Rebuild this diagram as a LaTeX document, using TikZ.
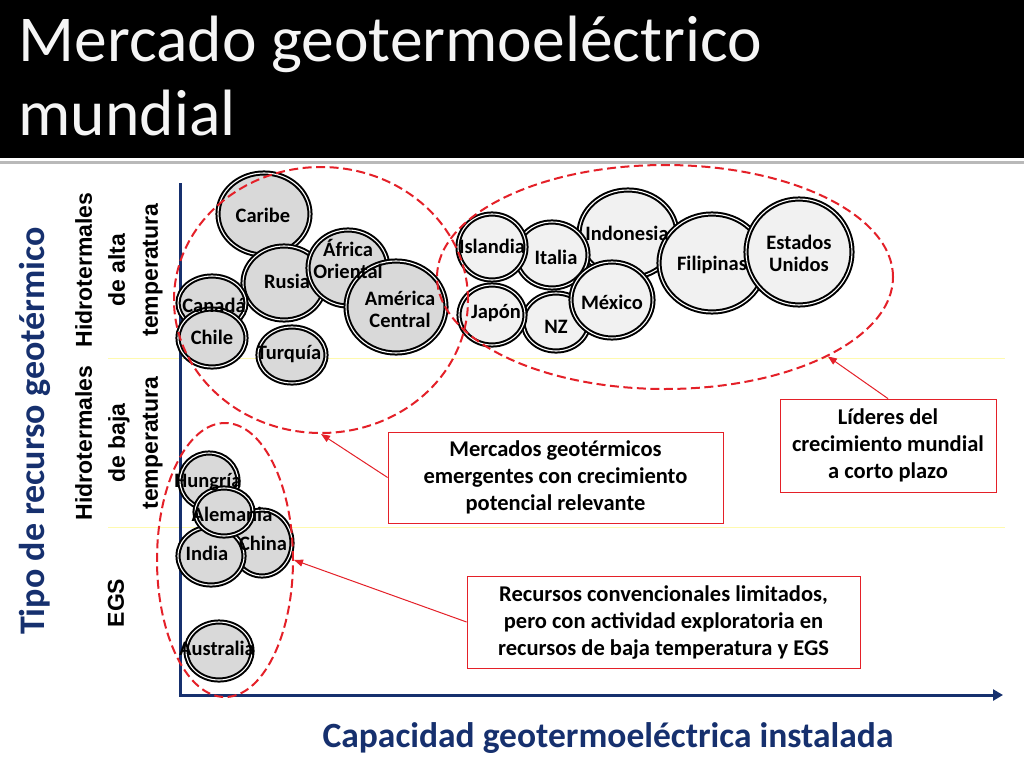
\documentclass[tikz,border=0pt]{standalone}
\usepackage{fontspec}
\setmainfont{Carlito}
\newfontfamily\arialfont{Liberation Sans}
\usetikzlibrary{shapes.geometric,arrows.meta}
\definecolor{navy}{RGB}{22,48,110}
\definecolor{redline}{RGB}{228,32,40}
\definecolor{gridyel}{RGB}{255,250,175}
\definecolor{bubA}{RGB}{217,217,217}
\definecolor{bubB}{RGB}{241,241,241}
\begin{document}
\begin{tikzpicture}[x=1pt,y=-1pt,
	bubble/.style={draw=black,line width=2pt,double=white,double distance=1.1pt},
	bubtext/.style={align=center,inner sep=0pt,font=\bfseries\fontsize{20.5}{22}\selectfont},
	ring/.style={ellipse,draw=redline,line width=2pt,dash pattern=on 9pt off 4.5pt,inner sep=0pt},
	note/.style={draw=redline,line width=0.8pt,fill=white,align=center,inner sep=0pt,font=\bfseries\fontsize{22.5}{27}\selectfont},
	pointer/.style={draw=redline,line width=1pt,-{Triangle[length=9pt,width=7pt]}},
	rowlab/.style={rotate=90,align=center,font=\arialfont\bfseries\fontsize{23}{33}\selectfont}]
	\useasboundingbox[fill=white] (0,0) rectangle (1024,768);
	\fill[black] (0,0) rectangle (1024,158);
	\draw[gray!55,line width=3pt] (0,162) -- (1024,162);
	\node[anchor=base west,text=gray!8,font=\fontsize{65.5}{73}\selectfont] (title1) at (15,62) {Mercado geotermoeléctrico};
	\node[anchor=base west,text=gray!8,font=\fontsize{65.5}{73}\selectfont] (title2) at (15,135) {mundial};
	
	\draw[gridyel,line width=1pt] (108,358) -- (1005,358) (108,527) -- (1005,527);
	\path (180,183) coordinate (ytop) (180,695) coordinate (O) (1003,695) coordinate (xend);
	\draw[navy,line width=3pt,-{Triangle[length=10pt,width=11pt]}] (ytop) -- (O) -- (xend);
	
	\node[rotate=90,text=navy,font=\bfseries\fontsize{36}{36}\selectfont] (ytitle) at (35,431) {Tipo de recurso geotérmico};
	\node[rowlab] (rowalta) at (119,270) {Hidrotermales\\de alta\\temperatura};
	\node[rowlab] (rowbaja) at (119,443) {Hidrotermales\\de baja\\temperatura};
	\node[rowlab] (rowegs) at (116,603) {EGS};
	\node[text=navy,font=\bfseries\fontsize{35.5}{36}\selectfont] (xtitle) at (608,738) {Capacidad geotermoeléctrica instalada};
	
	\def\leftbubbles{caribe/264/214/46/41/263/215/Caribe, rusia/284/283/41/37/287/281/Rusia, africa/348/268/40/38/348/259/{África\\Oriental}, amcentral/396/307/50/46/400/309/{América\\Central}, canada/212/303/34/27/214/305/Canadá, chile/212/338/34/29/212/337/Chile, turquia/292/355/34/28/289/354/Turquía, hungria/209/481/29/28/208/482/Hungría, china/262/543/30/33/263/543/China, india/211/556/33/29/207/553/India, alemania/224/512/29/24/232/514/Alemania, australia/219/651/33/29/217/648/Australia}
	\def\rightbubbles{indonesia/628/234/49/44/627/233/Indonesia, italia/552/255/36/33/556/257/Italia, islandia/492/247/34/33/492/246/Islandia, filipinas/712/263/53/49/712/265/Filipinas, eeuu/799/252/53/53/799/253/{Estados\\Unidos}, nz/556/322/33/29/556/327/NZ, japon/492/315/33/30/496/313/Japón, mexico/612/300/41/38/612/302/México}
	\foreach \n/\x/\y/\rx/\ry/\tx/\ty/\t in \leftbubbles \draw[bubble,fill=bubA] (\x,\y) ellipse [x radius=\rx,y radius=\ry];
	\foreach \n/\x/\y/\rx/\ry/\tx/\ty/\t in \rightbubbles \draw[bubble,fill=bubB] (\x,\y) ellipse [x radius=\rx,y radius=\ry];
	\foreach \n/\x/\y/\rx/\ry/\tx/\ty/\t in \leftbubbles \node[bubtext] (\n) at (\tx,\ty) {\t};
	\foreach \n/\x/\y/\rx/\ry/\tx/\ty/\t in \rightbubbles \node[bubtext] (\n) at (\tx,\ty) {\t};
	
	\node[ring,minimum width=294,minimum height=266] (grpA) at (321,300) {};
	\node[ring,minimum width=456,minimum height=224] (grpB) at (665,277) {};
	\node[ring,minimum width=136,minimum height=274] (grpC) at (225,560) {};
	
	\node[note,minimum width=335,minimum height=91] (noteA) at (555.5,477.5) {Mercados geotérmicos\\emergentes con crecimiento\\potencial relevante};
	\node[note,minimum width=216,minimum height=93] (noteB) at (888,445.5) {Líderes del\\crecimiento mundial\\a corto plazo};
	\node[note,minimum width=393,minimum height=92] (noteC) at (663.5,622) {Recursos convencionales limitados,\\pero con actividad exploratoria en\\recursos de baja temperatura y EGS};
	\draw[pointer] (noteA.west) -- (grpA.south);
	\draw[pointer] (noteB.north) -- (grpB.-26);
	\draw[pointer] (noteC.west) -- (grpC.east);
\end{tikzpicture}
\end{document}
